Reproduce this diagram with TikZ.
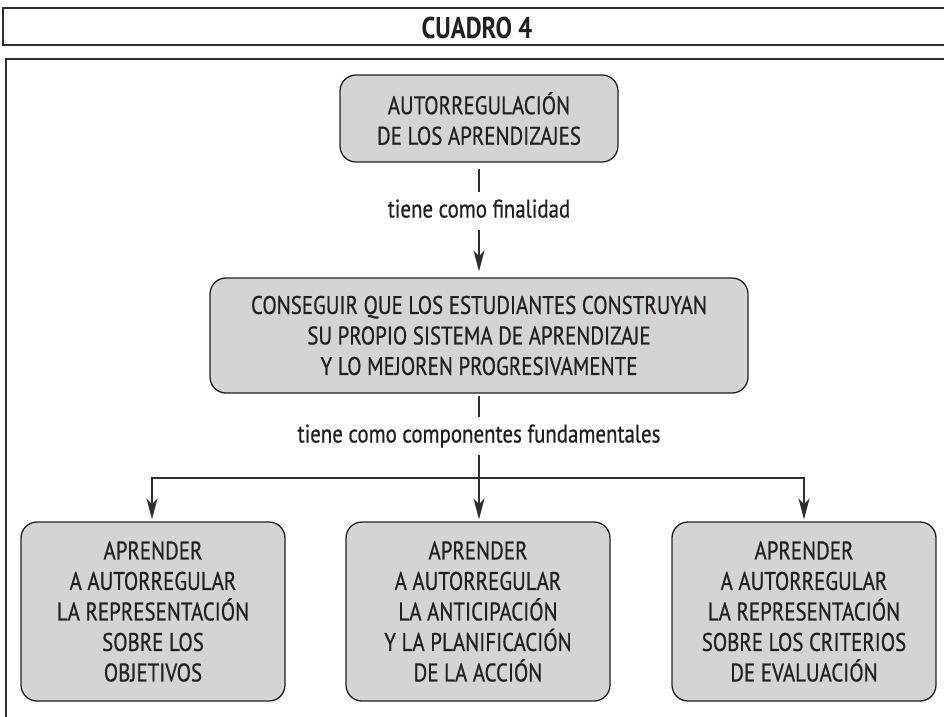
\documentclass[tikz,border=0pt]{standalone}
\usepackage{fontspec}
\setmainfont{PT Sans}[FakeStretch=0.82]
\newfontfamily\bodyfont{PT Sans}[FakeStretch=0.82,FakeBold=0.6]
\usetikzlibrary{arrows.meta}
\definecolor{ink}{HTML}{231F20}
\definecolor{boxfill}{HTML}{D4D4D6}
\definecolor{linec}{HTML}{2E2E2E}
\tikzset{
  frame/.style={draw=linec, line width=1.4pt},
  box/.style={draw=ink, line width=1.3pt, fill=boxfill, rounded corners=16pt,
    align=center, text=ink, inner sep=0pt,
    font=\bodyfont\fontsize{25.5}{30.5}\selectfont},
  lab/.style={text=ink, inner sep=0pt, minimum height=38pt,
    text height=18pt, text depth=5pt,
    font=\bodyfont\fontsize{25.5}{30.5}\selectfont},
  conn/.style={draw=linec, line width=1.4pt},
  arr/.style={conn, -{Stealth[length=21pt,width=11pt,inset=6pt]}},
}
\begin{document}
\begin{tikzpicture}[x=1pt,y=-1pt]
\clip (0,0) rectangle (944,716);
\fill[white] (0,0) rectangle (944,716);
% frames
\draw[frame] (3,8) rectangle (960,45);
\draw[frame] (6,59) rectangle (960,740);
\node[text=ink, font=\bfseries\fontsize{30}{32}\selectfont] (title) at (477,27.5) {CUADRO 4};
% boxes
\node[box, minimum width=278pt, minimum height=87pt] (b1) at (479,118.5)
  {AUTORREGULACIÓN\\DE LOS APRENDIZAJES};
\node[lab] (l1) at (479,211) {tiene como finalidad};
\node[box, minimum width=538pt, minimum height=115pt] (b2) at (479,335.5)
  {CONSEGUIR QUE LOS ESTUDIANTES CONSTRUYAN\\SU PROPIO SISTEMA DE APRENDIZAJE\\Y LO MEJOREN PROGRESIVAMENTE};
\node[lab] (l2) at (479,436) {tiene como componentes fundamentales};
\coordinate (j) at (479,478);
\node[box, minimum width=264pt, minimum height=179pt] (c1) at (153,611.5)
  {APRENDER\\A AUTORREGULAR\\LA REPRESENTACIÓN\\SOBRE LOS\\OBJETIVOS};
\node[box, minimum width=264pt, minimum height=179pt] (c2) at (478,611.5)
  {APRENDER\\A AUTORREGULAR\\LA ANTICIPACIÓN\\Y LA PLANIFICACIÓN\\DE LA ACCIÓN};
\node[box, minimum width=264pt, minimum height=179pt] (c3) at (804,611.5)
  {APRENDER\\A AUTORREGULAR\\LA REPRESENTACIÓN\\SOBRE LOS CRITERIOS\\DE EVALUACIÓN};
% connectors
\draw[conn] ([yshift=-6pt]b1.south) -- (l1.north);
\draw[arr] (l1.south) -- ([yshift=6pt]b2.north);
\draw[conn] ([yshift=-2pt]b2.south) -- (l2.north);
\draw[conn] (l2.south) -- (j);
\draw[arr] (j) -| ([xshift=-1pt,yshift=2pt]c1.north);
\draw[arr] (j) -- ([yshift=2pt]j |- c2.north);
\draw[arr] (j) -| ([yshift=2pt]c3.north);
\end{tikzpicture}
\end{document}
